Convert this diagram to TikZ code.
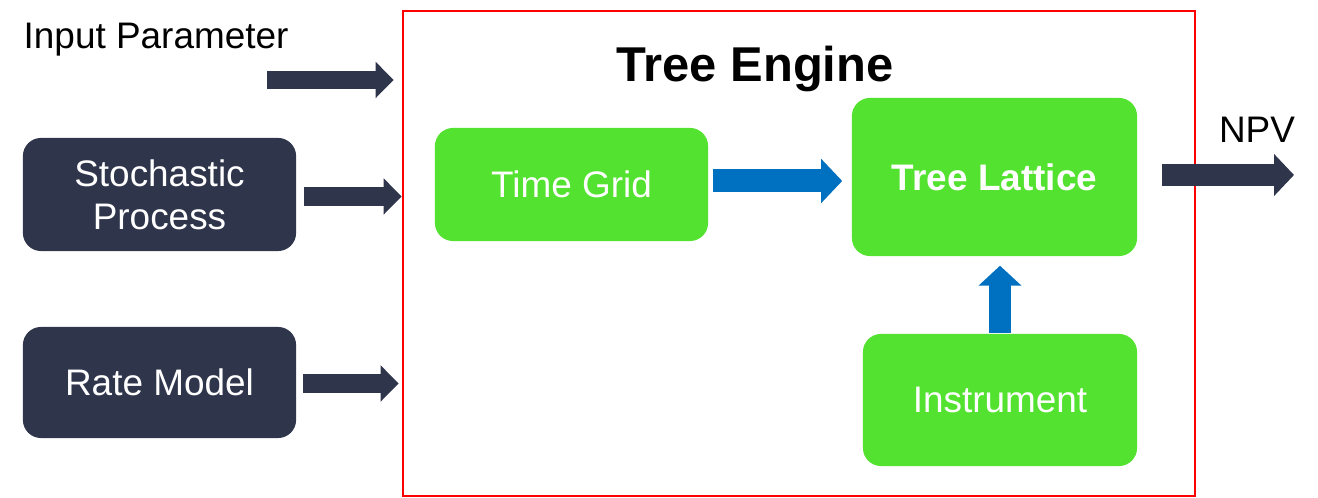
\documentclass[tikz,border=0pt]{standalone}
\usepackage{fontspec}
\setmainfont{Liberation Sans}
\usetikzlibrary{calc,arrows.meta}
\definecolor{navy}{RGB}{47,53,75}
\definecolor{leaf}{RGB}{84,226,48}
\definecolor{flow}{RGB}{0,112,192}
\tikzset{
  box/.style={rounded corners=0.18cm, inner sep=0pt, align=center, text=white,
    font=\fontsize{10.5}{12.2}\selectfont},
  darkbox/.style={box, fill=navy},
  greenbox/.style={box, fill=leaf},
  darkarrow/.style={navy, line width=0.185cm, -{Triangle[length=0.18cm,width=0.35cm]}},
  bluearrow/.style={flow, line width=0.23cm, -{Triangle[length=0.21cm,width=0.43cm]}},
  label/.style={font=\fontsize{10.5}{12.2}\selectfont, inner sep=0pt}
}

\begin{document}
\begin{tikzpicture}[x=0.01cm, y=-0.01cm]
		%%%%% START %%%%%
		\useasboundingbox (0,0) rectangle (1318,498);
		
		\node[draw=red, line width=0.6pt, minimum width=7.92cm, minimum height=4.85cm] (engine) at (799,253.5) {};
		\node[label, font=\fontsize{13.9}{16}\selectfont\bfseries] (title) at (755,69) {Tree Engine};
		
		\node[label, anchor=west] (input) at (23,40) {Input Parameter};
		\coordinate (inputstart) at (267,80);
		
		\node[darkbox, minimum width=2.73cm, minimum height=1.13cm] (stoch) at (159.5,194.5) {Stochastic\\Process};
		\node[darkbox, minimum width=2.73cm, minimum height=1.11cm] (rate) at (159.5,382.5) {Rate Model};
		
		\node[greenbox, minimum width=2.73cm, minimum height=1.13cm] (tgrid) at (571.5,184.5) {Time Grid};
		\node[greenbox, minimum width=2.85cm, minimum height=1.58cm, font=\fontsize{10.5}{12.2}\selectfont\bfseries] (lattice) at (994.5,177) {Tree Lattice};
		\node[greenbox, minimum width=2.74cm, minimum height=1.32cm] (instr) at (1000,400) {Instrument};
		
		\node[label] (npv) at (1257,130) {NPV};
		\coordinate (npvend) at (1294,175);
		
		\draw[darkarrow] (inputstart) -- ($(engine.west |- inputstart)+(-8,0)$);
		\draw[darkarrow] ($(stoch.east)+(7,2)$) -- ($(engine.west |- stoch)+(0,2)$);
		\draw[darkarrow] ($(rate.east)+(6,1)$) -- ($(engine.west |- rate)+(-3,1)$);
		
		\draw[bluearrow] ($(tgrid.east)+(4,-3.5)$) -- ($(lattice.west |- tgrid)+(-9,-3.5)$);
		\draw[bluearrow, line width=0.22cm, -{Triangle[length=0.2cm,width=0.42cm]}] (instr.north) -- ($(lattice.south -| instr)+(0,9)$);
		
		\draw[darkarrow, line width=0.22cm, -{Triangle[length=0.2cm,width=0.41cm]}] ($(lattice.east |- npvend)+(24,0)$) -- (npvend);
		%%%%% END %%%%%
\end{tikzpicture}
\end{document}
